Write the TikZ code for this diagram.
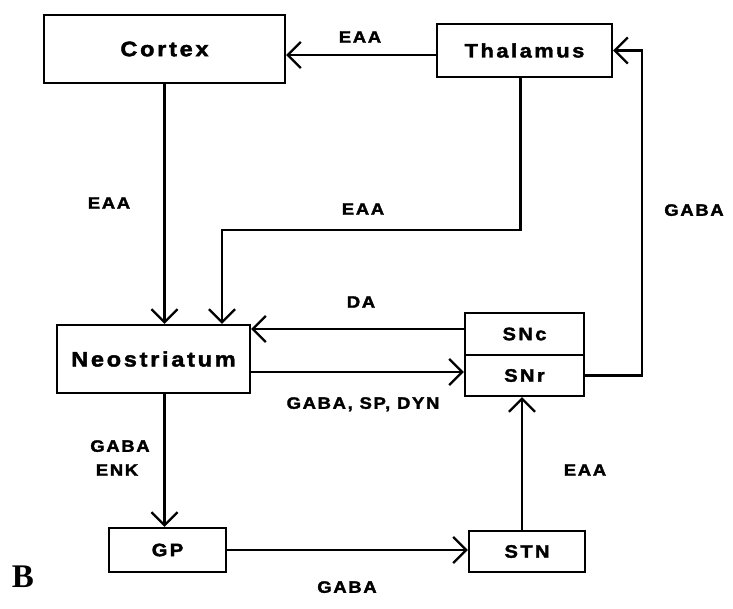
\documentclass[tikz,border=0pt]{standalone}
\usepackage{fontspec}
\setmainfont{Liberation Sans}
\newfontfamily\boxfont{Liberation Sans Bold}[LetterSpace=13,FakeStretch=1.12,FakeBold=2]
\newfontfamily\labfont{Liberation Sans Bold}[LetterSpace=10,FakeStretch=1.12,FakeBold=2]
\newfontfamily\panelfont{Liberation Serif Bold}
\usetikzlibrary{arrows.meta}
\begin{document}
\begin{tikzpicture}[x=1pt,y=-1pt,
  box/.style={draw, line width=2.4pt, inner sep=0pt},
  bigtext/.style={font=\boxfont\fontsize{21}{21}\selectfont},
  midtext/.style={font=\boxfont\fontsize{19.5}{19.5}\selectfont},
  smalltext/.style={font=\boxfont\fontsize{18}{18}\selectfont},
  lab/.style={font=\labfont\fontsize{16.5}{16.5}\selectfont, inner sep=0pt, text depth=0pt},
  arr/.style={line width=2.3pt, -{Straight Barb[length=13pt,width=26pt]}}
]
\useasboundingbox (0,0) rectangle (733,608);

% boxes
\node[box, bigtext, minimum width=241pt, minimum height=68pt] (cortex) at (164.5,49) {Cortex};
\node[box, midtext, minimum width=175pt, minimum height=53pt] (thal) at (524.5,50.5) {Thalamus};
\node[box, bigtext, minimum width=193pt, minimum height=68pt] (neo) at (153.5,359) {Neostriatum};
\node[box, smalltext, minimum width=119pt, minimum height=42pt] (snc) at (524.5,334) {SNc};
\node[box, smalltext, minimum width=119pt, minimum height=41pt] (snr) at (524.5,375.5) {SNr};
\node[box, smalltext, minimum width=117pt, minimum height=44pt] (gp) at (167.5,550) {GP};
\node[box, smalltext, minimum width=116pt, minimum height=41pt] (stn) at (527,551.5) {STN};

% helper coordinates
\coordinate (k) at (222,230);
\coordinate (gx) at (642,0);

% connectors
\draw[arr] ([yshift=-4.5pt]thal.west) -- ([yshift=-4.5pt]thal.west -| cortex.east);
\draw[arr] (cortex.south) -- (cortex.south |- neo.north);
\draw[arr] ([xshift=-4pt]thal.south) |- (k) -- (k |- neo.north);
\draw[arr] ([yshift=5pt]snc.west) -- ([yshift=5pt]snc.west -| neo.east);
\draw[arr] ([yshift=-13pt]neo.east) -- ([yshift=-13pt]neo.east -| snr.west);
\draw[arr] (snr.east) -- (snr.east -| gx) |- (thal.east);
\draw[arr] ([xshift=11pt]neo.south) -- ([xshift=11pt]neo.south |- gp.north);
\draw[arr] (gp.east) -- (gp.east -| stn.west);
\draw[arr] ([xshift=-5pt]stn.north) -- ([xshift=-5pt]stn.north |- snr.south);

% labels
\node[lab] (l1) at (360,37) {EAA};
\node[lab] (l2) at (109,203) {EAA};
\node[lab] (l3) at (363,209) {EAA};
\node[lab] (l4) at (694,210) {GABA};
\node[lab] (l5) at (361,302) {DA};
\node[lab] (l6) at (363,403) {GABA, SP, DYN};
\node[lab] (l7) at (120,446) {GABA};
\node[lab] (l8) at (117,470) {ENK};
\node[lab] (l9) at (585,470) {EAA};
\node[lab] (l10) at (347,587) {GABA};
\node[font=\panelfont\fontsize{33}{33}\selectfont, inner sep=0pt] (panel) at (23,577) {B};
\end{tikzpicture}
\end{document}
